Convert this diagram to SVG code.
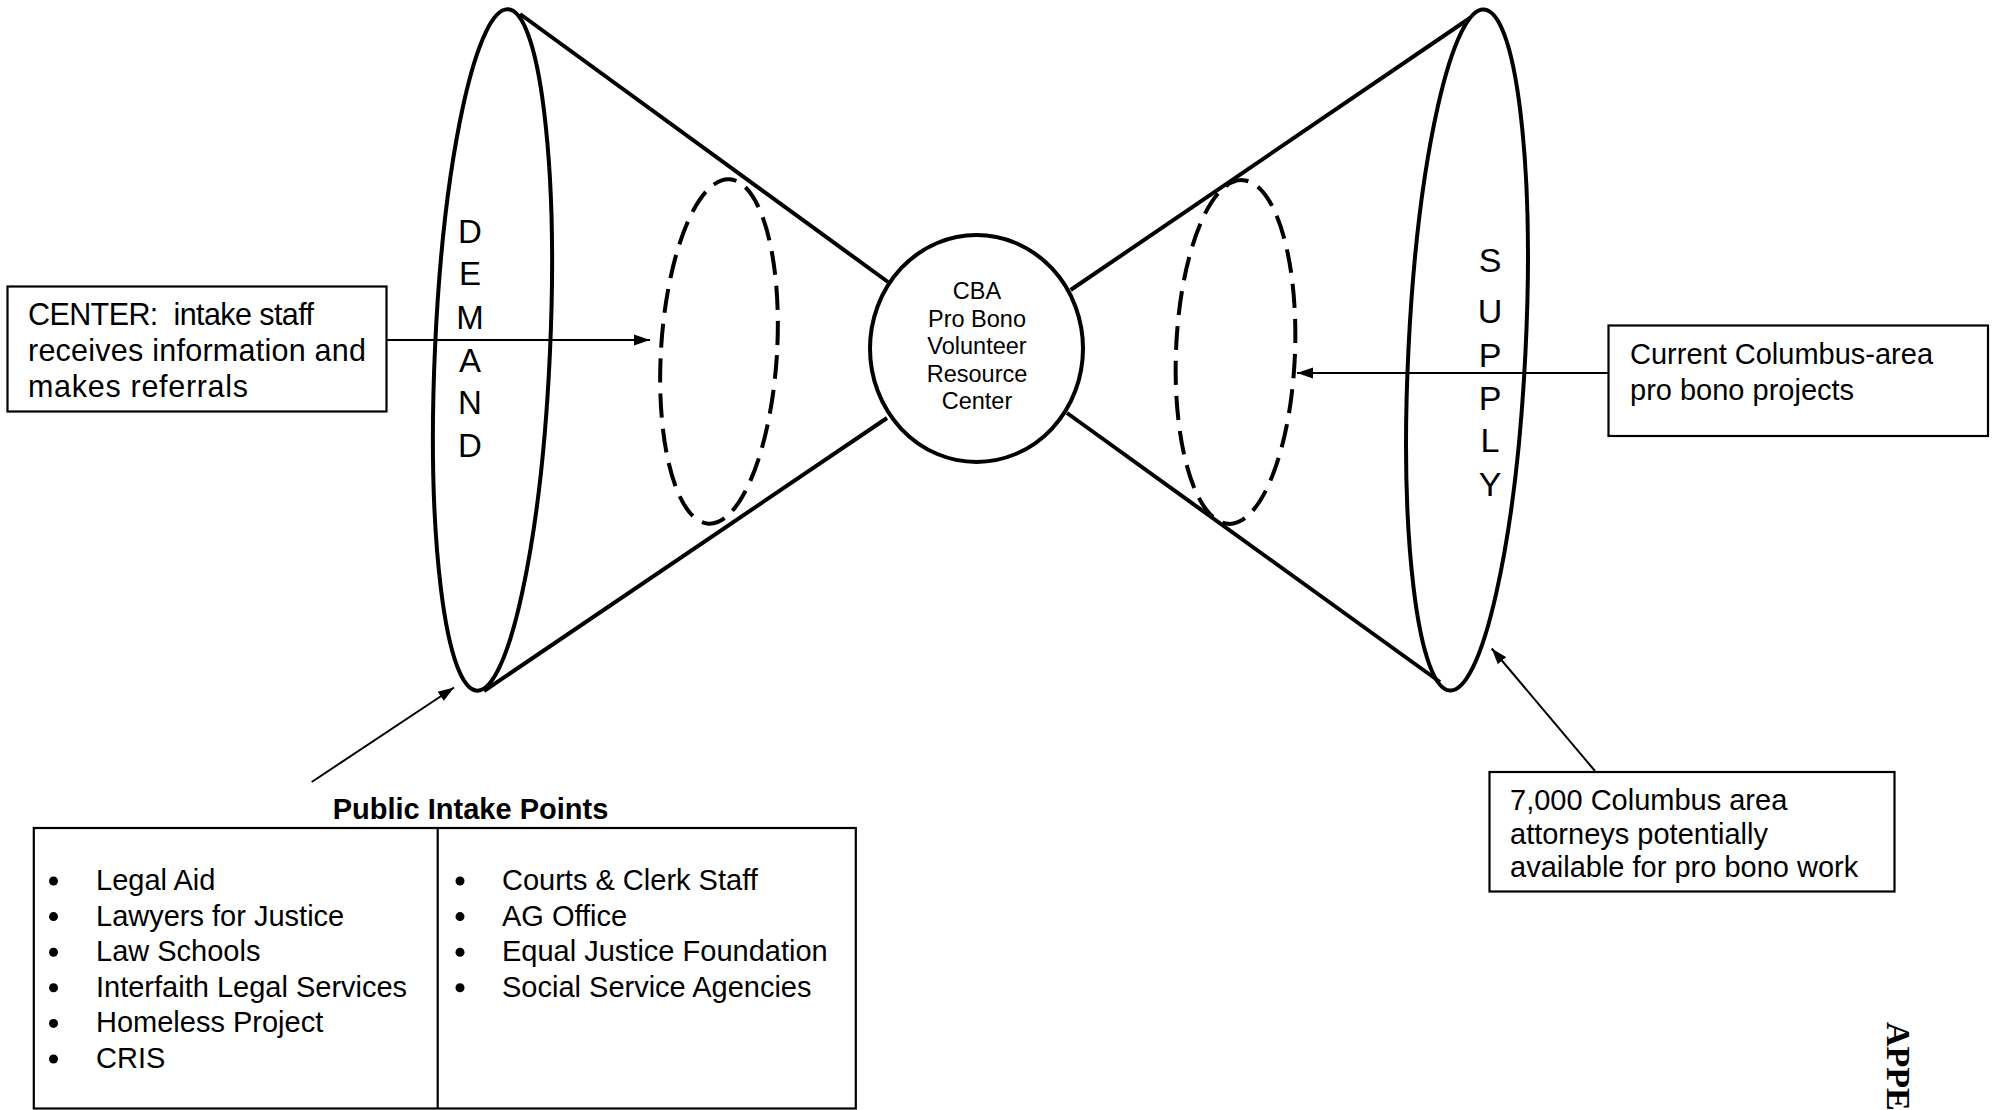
<svg xmlns="http://www.w3.org/2000/svg" width="1992" height="1110" viewBox="0 0 1992 1110">
<style>
.shape{fill:none;stroke:#000;stroke-width:4}
.dash{fill:none;stroke:#000;stroke-width:4;stroke-dasharray:24 11}
.box{fill:#fff;stroke:#000;stroke-width:2.2}
.conn{fill:none;stroke:#000;stroke-width:2}
.t{font-family:"Liberation Sans",Arial,sans-serif;fill:#000}
.big{font-size:33px;text-anchor:middle}
.ctr{font-size:23.5px;text-anchor:middle}
.lbl{font-size:29px}
.bul{fill:#000}
</style>
<defs>
<marker id="arr" markerUnits="userSpaceOnUse" markerWidth="17" markerHeight="12" refX="16" refY="6" orient="auto">
<path d="M0,0.5 L16,6 L0,11.5 z" fill="#000"/>
</marker>
</defs>
<rect width="1992" height="1110" fill="#fff"/>

<g id="funnel-demand">
<line class="shape" x1="520" y1="14" x2="888" y2="282"/>
<line class="shape" x1="484" y1="691" x2="887" y2="418"/>
<ellipse class="shape" cx="492.5" cy="350" rx="57.5" ry="341" transform="rotate(2.6 492.5 350)"/>
<ellipse class="dash" cx="719" cy="351.5" rx="58" ry="172.5" transform="rotate(3.5 719 351.5)"/>
<g class="t big">
<text x="470" y="243">D</text>
<text x="470" y="285">E</text>
<text x="470" y="329">M</text>
<text x="470" y="372">A</text>
<text x="470" y="414">N</text>
<text x="470" y="457">D</text>
</g>
</g>

<g id="funnel-supply">
<line class="shape" x1="1070.6" y1="290" x2="1470" y2="18"/>
<line class="shape" x1="1067" y1="413" x2="1440" y2="682"/>
<ellipse class="shape" cx="1467" cy="350" rx="58.5" ry="341" transform="rotate(2.85 1467 350)"/>
<ellipse class="dash" cx="1235.5" cy="352" rx="59.5" ry="172" transform="rotate(2.3 1235.5 352)"/>
<g class="t big" style="font-size:34px">
<text x="1490" y="272">S</text>
<text x="1490" y="323">U</text>
<text x="1490" y="366.5">P</text>
<text x="1490" y="410">P</text>
<text x="1490" y="451.5">L</text>
<text x="1490" y="496">Y</text>
</g>
</g>

<g id="center">
<ellipse class="shape" cx="976.5" cy="348.5" rx="106.5" ry="113.5" fill="#fff"/>
<g class="t ctr">
<text x="977" y="299">CBA</text>
<text x="977" y="326.5">Pro Bono</text>
<text x="977" y="354">Volunteer</text>
<text x="977" y="381.5">Resource</text>
<text x="977" y="409">Center</text>
</g>
</g>

<g id="center-intake-box">
<rect class="box" x="7.5" y="286.5" width="379" height="125"/>
<g class="t" style="font-size:30.5px">
<text x="28" y="325" textLength="286" lengthAdjust="spacing">CENTER:&#160; intake staff</text>
<text x="28" y="361" textLength="338" lengthAdjust="spacing">receives information and</text>
<text x="28" y="397" textLength="220" lengthAdjust="spacing">makes referrals</text>
</g>
</g>

<g id="projects-box">
<rect class="box" x="1608.5" y="325.5" width="379.5" height="110.5"/>
<g class="t lbl">
<text x="1630" y="363.5">Current Columbus-area</text>
<text x="1630" y="400">pro bono projects</text>
</g>
</g>

<g id="attorneys-box">
<rect class="box" x="1489.5" y="772" width="405" height="119.5"/>
<g class="t lbl">
<text x="1510" y="810">7,000 Columbus area</text>
<text x="1510" y="843.5">attorneys potentially</text>
<text x="1510" y="877">available for pro bono work</text>
</g>
</g>

<g id="public-intake">
<text class="t" x="470.5" y="819" style="font-size:29px;font-weight:bold;text-anchor:middle">Public Intake Points</text>
<rect class="box" x="33.8" y="828" width="822" height="280.5"/>
<line class="box" x1="437.7" y1="828" x2="437.7" y2="1108.5"/>
<g class="bul">
<circle cx="53.5" cy="881" r="4.5"/>
<circle cx="53.5" cy="916.6" r="4.5"/>
<circle cx="53.5" cy="952.2" r="4.5"/>
<circle cx="53.5" cy="987.8" r="4.5"/>
<circle cx="53.5" cy="1023.4" r="4.5"/>
<circle cx="53.5" cy="1059" r="4.5"/>
<circle cx="460" cy="881" r="4.5"/>
<circle cx="460" cy="916.6" r="4.5"/>
<circle cx="460" cy="952.2" r="4.5"/>
<circle cx="460" cy="987.8" r="4.5"/>
</g>
<g class="t lbl">
<text x="96" y="890">Legal Aid</text>
<text x="96" y="925.6">Lawyers for Justice</text>
<text x="96" y="961.2">Law Schools</text>
<text x="96" y="996.8">Interfaith Legal Services</text>
<text x="96" y="1032.4">Homeless Project</text>
<text x="96" y="1068">CRIS</text>
<text x="502" y="890">Courts &amp; Clerk Staff</text>
<text x="502" y="925.6">AG Office</text>
<text x="502" y="961.2">Equal Justice Foundation</text>
<text x="502" y="996.8">Social Service Agencies</text>
</g>
</g>

<g id="connectors">
<line class="conn" x1="387" y1="340" x2="650" y2="340" marker-end="url(#arr)"/>
<line class="conn" x1="1608" y1="373" x2="1297" y2="373" marker-end="url(#arr)"/>
<line class="conn" x1="311.7" y1="782" x2="454" y2="687.5" marker-end="url(#arr)"/>
<line class="conn" x1="1595" y1="771" x2="1491.7" y2="648.5" marker-end="url(#arr)"/>
</g>

<text x="0" y="0" transform="translate(1887 1022) rotate(90)" style="font-family:'Liberation Serif','Times New Roman',serif;font-weight:bold;font-size:34px">APPE</text>
</svg>
